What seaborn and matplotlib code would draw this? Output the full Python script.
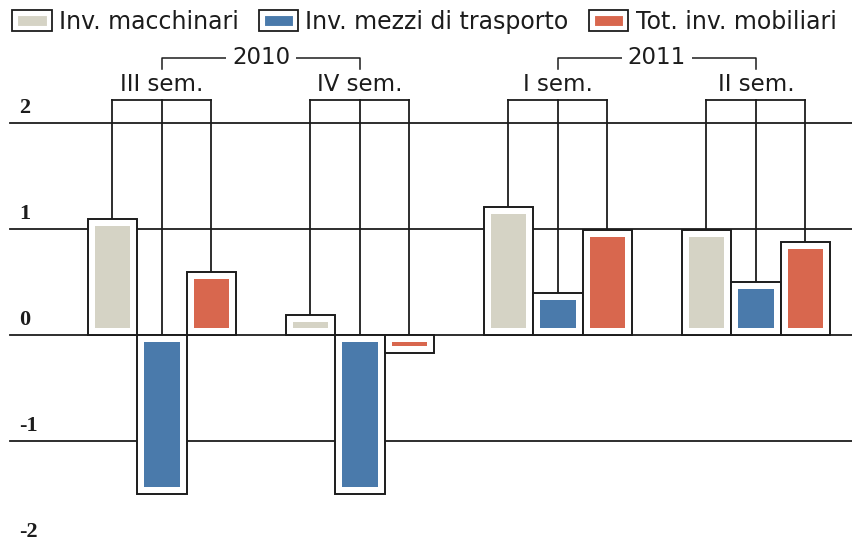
import numpy as np
import pandas as pd
import seaborn as sns
import matplotlib
matplotlib.use('Agg')
import matplotlib.pyplot as plt
from matplotlib.patches import Rectangle, Patch
from matplotlib.legend_handler import HandlerTuple

# values (percent change)
semesters = ['III sem.', 'IV sem.', 'I sem.', 'II sem.']
years = ['2010', '2011']
series = ['Inv. macchinari', 'Inv. mezzi di trasporto', 'Tot. inv. mobiliari']
macchinari = [1.09, 0.19, 1.21, 0.99]
mezzi = [-1.50, -1.50, 0.40, 0.50]
mobiliari = [0.59, -0.17, 0.99, 0.88]
yticks = [2, 1, 0, -1, -2]
colors = ['#d5d3c5', '#4a7aab', '#d8674e']

ink = '#1c1c1c'
fs = 16.5

df = pd.DataFrame({
    'sem': semesters * 3,
    'serie': [s for s in series for _ in semesters],
    'val': macchinari + mezzi + mobiliari,
})

fig, ax = plt.subplots(figsize=(8.53, 5.43), dpi=100)
ax.set_position([0, 0, 1, 1])

# white frames with black outline
sns.barplot(data=df, x='sem', y='val', hue='serie', order=semesters,
            hue_order=series, palette={s: 'white' for s in series},
            saturation=1, width=0.75, edgecolor=ink, linewidth=1.4,
            legend=False, errorbar=None, ax=ax, zorder=3)

ax.set_xlim(-0.818, 3.49)
ax.set_ylim(-1.962, 3.16)
ax.axis('off')

# coloured bars inset in the frames
pad_x = 7 / 198
pad_y = 7 / 106
for cont, col in zip(ax.containers, colors):
    for p in cont:
        h = p.get_height()
        s = np.sign(h)
        ax.add_patch(Rectangle((p.get_x() + pad_x, s * pad_y),
                               p.get_width() - 2 * pad_x, h - 2 * s * pad_y,
                               facecolor=col, edgecolor='none', zorder=4))

# grid lines
for y in yticks:
    ax.axhline(y, xmin=10 / 853, color=ink, lw=1.3, zorder=1)
    ax.text(19 / 853, y + 0.145, str(y), transform=ax.get_yaxis_transform(),
            ha='left', va='center', fontsize=16, family='Liberation Serif',
            weight='bold', color=ink)

# connectors from bars to semester labels
top_y = 2.22
for j, sem in enumerate(semesters):
    cx = [cont[j].get_x() + cont[j].get_width() / 2 for cont in ax.containers]
    for x in cx:
        ax.plot([x, x], [0, top_y], color=ink, lw=1.3, zorder=2)
    ax.plot([cx[0], cx[-1]], [top_y, top_y], color=ink, lw=1.3, zorder=2)
    ax.text(j, 2.36, sem, ha='center', va='center', fontsize=fs, color=ink)

# year brackets
for k, yr in enumerate(years):
    x0, x1 = 2 * k, 2 * k + 1
    ax.plot([x0, x0, x1, x1], [2.51, 2.613, 2.613, 2.51], color=ink, lw=1.1, zorder=2)
    ax.text((x0 + x1) / 2, 2.613, yr, ha='center', va='center', fontsize=fs,
            color=ink, zorder=3,
            bbox=dict(facecolor='white', edgecolor='none', pad=4))

# legend
handles = [(Patch(facecolor=c, edgecolor='white', lw=8),
            Patch(facecolor='none', edgecolor=ink, lw=1.3)) for c in colors]
fig.legend(handles, series, handler_map={tuple: HandlerTuple(ndivide=1, pad=0)},
           ncol=3, loc='upper left', bbox_to_anchor=(12 / 853, 1 - 10 / 543),
           frameon=False, fontsize=17, handlelength=1.68, handleheight=1.0,
           columnspacing=0.85, handletextpad=0.3, borderpad=0, borderaxespad=0,
           labelcolor=ink)

fig.savefig('out.png', dpi=100)
